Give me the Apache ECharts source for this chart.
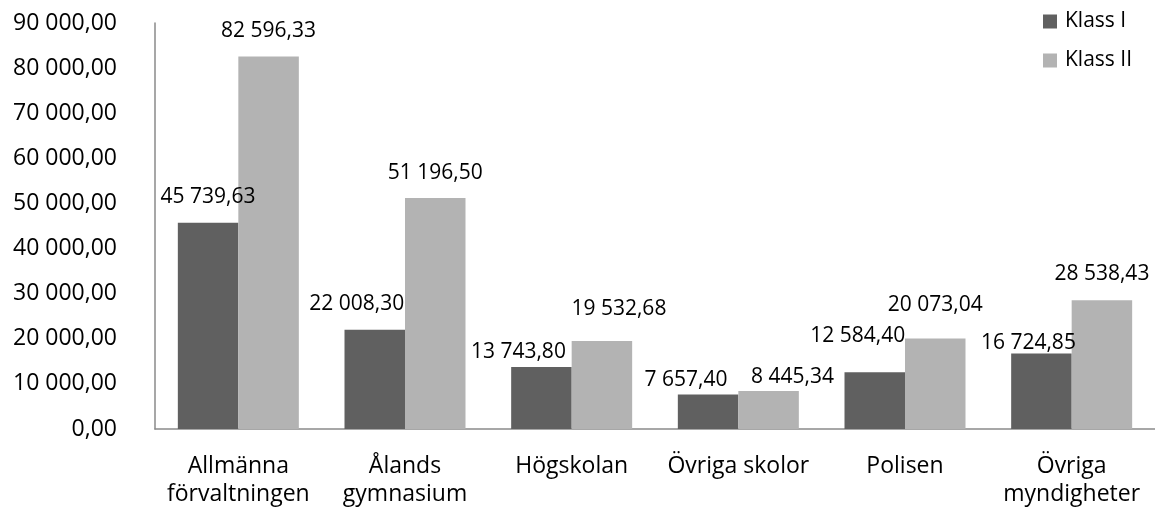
<!DOCTYPE html>
<html>
<head>
<meta charset="utf-8">
<script src="https://cdn.jsdelivr.net/npm/echarts@6/dist/echarts.min.js"></script>
<style>
    html, body { margin: 0; padding: 0; background: #fff; }
    #chart { width: 1155px; height: 508px; }
</style>
</head>
<body>
<div id="chart"></div>
<script>
    var categories = ['Allmänna\nförvaltningen', 'Ålands\ngymnasium', 'Högskolan', 'Övriga skolor', 'Polisen', 'Övriga\nmyndigheter'];
    var seriesNames = ['Klass I', 'Klass II'];
    var klass1 = [45739.63, 22008.30, 13743.80, 7657.40, 12584.40, 16724.85];
    var klass2 = [82596.33, 51196.50, 19532.68, 8445.34, 20073.04, 28538.43];

    // label nudges (Excel pushes some labels aside so they don't overlap)
    var shift1 = [[0, 0], [-18, 0], [-23, 11], [-22, 11], [-17, -11], [-13, 15]];
    var shift2 = [[0, 0], [0, 0], [17, -6], [24, 12], [0, -8], [0, -1]];

    var fontName = 'Open Sans';

    //  45739.63 -> "45 739,63"
    function fmt(v) {
        var parts = v.toFixed(2).split('.');
        var intPart = parts[0].replace(/\B(?=(\d{3})+(?!\d))/g, ' ');
        return intPart + ',' + parts[1];
    }

    function buildData(values, shifts) {
        var res = [];
        for (var i = 0; i < values.length; i++) {
            res.push({value: values[i], label: {offset: shifts[i]}});
        }
        return res;
    }

    var barLabel = {
        show: true,
        position: 'top',
        distance: 15,
        color: '#000',
        fontFamily: fontName,
        fontSize: 21,
        formatter: function (p) { return fmt(p.value); }
    };

    var myChart = echarts.init(document.getElementById('chart'));

    var option = {
        animation: false,
        backgroundColor: '#fff',
        legend: {
            orient: 'vertical',
            left: 1038,
            top: 6,
            itemWidth: 14,
            itemHeight: 14,
            itemGap: 18,
            icon: 'rect',
            data: seriesNames,
            textStyle: {
                color: '#000',
                fontFamily: fontName,
                fontSize: 21,
                padding: [0, 0, 0, 3]
            }
        },
        grid: {
            left: 155,
            right: -8,
            top: 23,
            bottom: 79
        },
        xAxis: {
            type: 'category',
            data: categories,
            axisLine: { lineStyle: { color: '#8a8a8a', width: 1.5 } },
            axisTick: { show: false },
            axisLabel: {
                color: '#000',
                fontFamily: fontName,
                fontSize: 23,
                lineHeight: 28,
                margin: 23,
                interval: 0
            }
        },
        yAxis: {
            type: 'value',
            min: 0,
            max: 90000,
            interval: 10000,
            axisLine: { show: true, lineStyle: { color: '#8a8a8a', width: 1.5 } },
            axisTick: { show: false },
            splitLine: { show: false },
            axisLabel: {
                color: '#000',
                fontFamily: fontName,
                fontSize: 23,
                margin: 38,
                formatter: function (v) { return fmt(v); }
            }
        },
        series: [
            {
                name: seriesNames[0],
                type: 'bar',
                barGap: '0%',
                barCategoryGap: '27.4%',
                itemStyle: { color: '#606060' },
                label: barLabel,
                data: buildData(klass1, shift1)
            },
            {
                name: seriesNames[1],
                type: 'bar',
                barGap: '0%',
                barCategoryGap: '27.4%',
                itemStyle: { color: '#b3b3b3' },
                label: barLabel,
                data: buildData(klass2, shift2)
            }
        ]
    };

    myChart.setOption(option);
</script>
</body>
</html>
